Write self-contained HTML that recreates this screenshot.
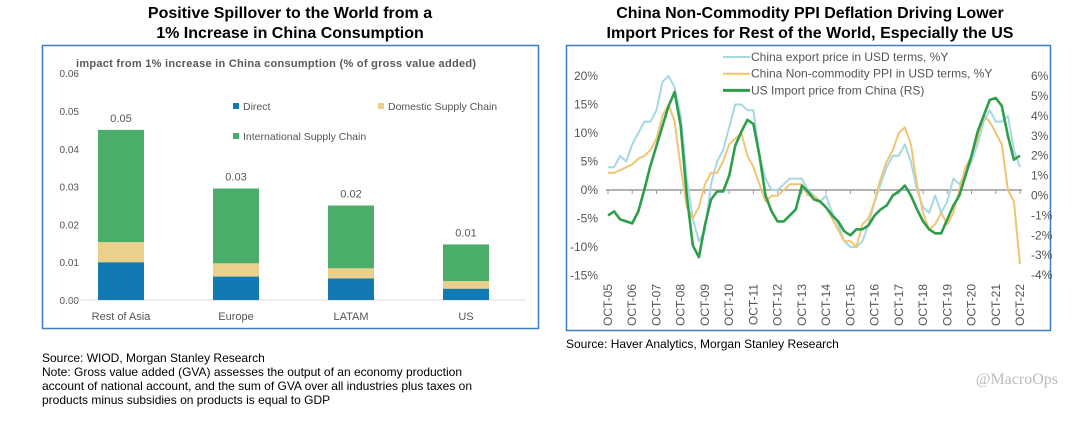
<!DOCTYPE html>
<html><head><meta charset="utf-8"><style>
body{margin:0;background:#fff;width:1080px;height:416px;overflow:hidden;font-family:"Liberation Sans",Arial,sans-serif}
</style></head><body>
<svg width="1080" height="416" xmlns="http://www.w3.org/2000/svg" font-family="Liberation Sans, Arial, sans-serif">
<g font-weight="bold" font-size="16" text-anchor="middle" fill="#000">
<text x="290" y="18">Positive Spillover to the World from a</text>
<text x="290" y="38">1% Increase in China Consumption</text></g>
<g font-weight="bold" font-size="16" text-anchor="middle" fill="#000">
<text x="810" y="18">China Non-Commodity PPI Deflation Driving Lower</text>
<text x="810" y="38">Import Prices for Rest of the World, Especially the US</text></g>
<rect x="42.5" y="45.5" width="496" height="283" fill="none" stroke="#3b7fc0" stroke-width="1.5"/>
<rect x="566.5" y="45.5" width="484" height="285" fill="none" stroke="#3b7fc0" stroke-width="1.5"/>
<text x="76" y="67" font-size="11" font-weight="bold" fill="#595959" textLength="400">impact from 1% increase in China consumption (% of gross value added)</text>
<g id="left"></g>
<g id="right"></g>
<g font-size="12" fill="#000">
<text x="42" y="362">Source: WIOD, Morgan Stanley Research</text>
<text x="42" y="376">Note: Gross value added (GVA) assesses the output of an economy production</text>
<text x="42" y="390">account of national account, and the sum of GVA over all industries plus taxes on</text>
<text x="42" y="404">products minus subsidies on products is equal to GDP</text>
<text x="566" y="348">Source: Haver Analytics, Morgan Stanley Research</text></g>
<text x="1058" y="384" font-size="16" text-anchor="end" fill="#bbb" font-family="Liberation Serif, serif">@MacroOps</text>
</svg>
<script>
const regions=["Rest of Asia","Europe","LATAM","US"];
const direct=[0.0100,0.0062,0.0057,0.0030];
const domestic=[0.0053,0.0035,0.0027,0.0020];
const intl=[0.0297,0.0198,0.0166,0.0097];
const totalsLbl=["0.05","0.03","0.02","0.01"];
const yTicksL=[0,0.01,0.02,0.03,0.04,0.05,0.06];

const years=["OCT-05","OCT-06","OCT-07","OCT-08","OCT-09","OCT-10","OCT-11","OCT-12","OCT-13","OCT-14","OCT-15","OCT-16","OCT-17","OCT-18","OCT-19","OCT-20","OCT-21","OCT-22"];
const exportPrice=[4,4,6,5,8,10,12,12,14,19,20,18,13,2,-5,-9,-7,1,5,7,11,15,15,14,14,6,2,0,0,1,2,2,2,0,-1,-2,-1,-4,-6,-9,-10,-10,-9,-6,-2,1,4,6,6,8,5,0,-3,-4,-1,-4,-2,2,1,3,5,8,12,14,12,12,13,7,4];
const ppi=[3,3,3.5,4,4.5,5.5,6,7,9,13,15,12,4,-3,-5,-3,1,3,3,5,8,9,10,6,4,1,-2,-1,-1,0,1,1,1,-1,-1,-2,-3,-5,-7,-9,-9,-10,-6,-5,-2,2,5,7,10,11,8,1,-4,-7,-6,-4,-6,-4,0,4,6,9,13,12,10,8,0,-2,-13];
const usImport=[-1,-0.8,-1.2,-1.3,-1.4,-0.8,0.3,1.5,2.5,3.5,4.5,5.2,3.5,0,-2.5,-3.1,-1.5,-0.2,0.2,0.2,1,2.5,3.2,3.8,3.6,2,0,-0.8,-1.3,-1.3,-1,-0.7,0.5,0.2,-0.2,-0.3,-0.6,-1,-1.3,-1.8,-2,-1.7,-1.7,-1.5,-1,-0.7,-0.5,0,0.2,0.5,0,-0.7,-1.3,-1.7,-1.9,-1.9,-1.2,-0.5,0,1,2,3.2,4,4.8,4.9,4.5,3,1.8,2];
const yTicksLeft=[20,15,10,5,0,-5,-10,-15];
const yTicksRight=[6,5,4,3,2,1,0,-1,-2,-3,-4];

const NS="http://www.w3.org/2000/svg";
function mk(p,t,a){const e=document.createElementNS(NS,t);for(const k in a)e.setAttribute(k,a[k]);p.appendChild(e);return e;}

// Left chart
const L=document.getElementById('left');
const yL=v=>300-v/0.01*37.8;
const xL=i=>121+i*115;
yTicksL.forEach(v=>{const t=mk(L,'text',{x:79,y:yL(v)+4,'font-size':10,'text-anchor':'end',fill:'#555'});t.textContent=v.toFixed(2);

});
const base=mk(L,'line',{x1:63,x2:525,y1:300,y2:300,stroke:'#d9d9d9'});


const cols=['#1379b4','#ead08a','#4aad6a'];
regions.forEach((r,i)=>{
  let acc=0;
  [direct[i],domestic[i],intl[i]].forEach((v,j)=>{
    const b=mk(L,'rect',{x:xL(i)-23,width:46,y:yL(acc+v),height:yL(acc)-yL(acc+v),fill:cols[j]});
    
    
    acc+=v;
  });
  const t=mk(L,'text',{x:xL(i),y:yL(acc)-8,'font-size':11,'text-anchor':'middle',fill:'#555'});t.textContent=totalsLbl[i];
  
  
  const c=mk(L,'text',{x:xL(i),y:320,'font-size':11,'text-anchor':'middle',fill:'#555'});c.textContent=r;
  
  
});
[['Direct',233,107,0],['Domestic Supply Chain',378,107,1],['International Supply Chain',233,137,2]].forEach(d=>{
  const g=mk(L,'g',{});
  
  
  mk(g,'rect',{x:d[1],y:d[2]-4,width:6,height:6,fill:cols[d[3]]});
  const t=mk(g,'text',{x:d[1]+10,y:d[2]+3,'font-size':10.5,fill:'#555'});t.textContent=d[0];
});

// Right chart
const R=document.getElementById('right');
const xR=i=>608+i*(412/68);
const yLeft=v=>190-v*5.7;
const yRight=v=>195.5-v*19.9;
yTicksLeft.forEach(v=>{const t=mk(R,'text',{x:598,y:yLeft(v)+4,'font-size':12,'text-anchor':'end',fill:'#555'});t.textContent=v+'%';

});
yTicksRight.forEach(v=>{const t=mk(R,'text',{x:1031,y:yRight(v)+4,'font-size':12,fill:'#555'});t.textContent=v+'%';

});
const ax=mk(R,'line',{x1:606,x2:1022,y1:yLeft(0),y2:yLeft(0),stroke:'#999','stroke-width':1.5});


years.forEach((y,k)=>{const x=xR(k*4);
  const tk=mk(R,'line',{x1:x,x2:x,y1:yLeft(0),y2:yLeft(0)+4,stroke:'#999'});
  
  
  const t=mk(R,'text',{x:0,y:0,'font-size':12,fill:'#555','text-anchor':'end',transform:`translate(${x+4},284) rotate(-90)`});t.textContent=y;
  
  
});
function line(arr,yf,col,w,name){
  const d=arr.map((v,i)=>(i?'L':'M')+xR(i).toFixed(1)+','+yf(v).toFixed(1)).join('');
  const p=mk(R,'path',{d:d,fill:'none',stroke:col,'stroke-width':w,'stroke-linejoin':'round'});
  
  
}
line(exportPrice,yLeft,'#a6d8e2',2,'series-china-export-price');
line(ppi,yLeft,'#efc574',2,'series-china-ppi');
line(usImport,yRight,'#2e9e4a',2.6,'series-us-import-price');
[['China export price in USD terms, %Y','#a6d8e2',2],['China Non-commodity PPI in USD terms, %Y','#efc574',2],['US Import price from China (RS)','#2e9e4a',3]].forEach((d,i)=>{
  const g=mk(R,'g',{});
  
  
  const y=57+i*16.7;
  mk(g,'line',{x1:723,x2:750,y1:y,y2:y,stroke:d[1],'stroke-width':d[2]});
  const t=mk(g,'text',{x:751,y:y+4,'font-size':12,fill:'#555'});t.textContent=d[0];
});
</script>
</body></html>
